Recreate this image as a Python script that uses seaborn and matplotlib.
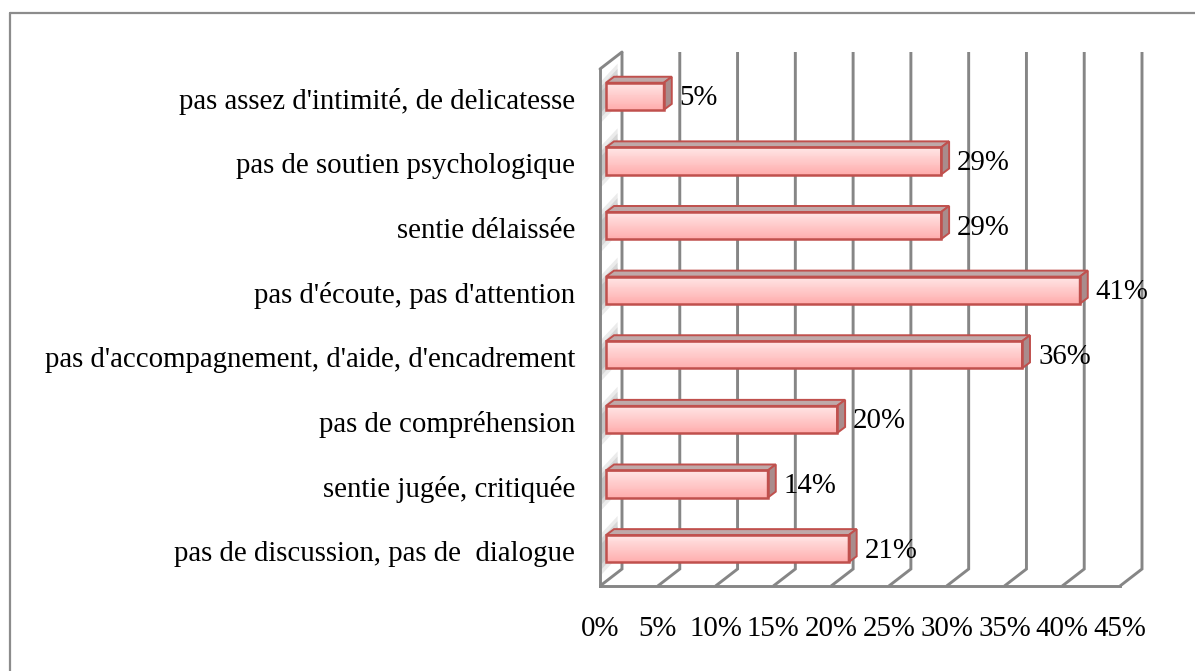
#Importing required libraries
import numpy as np
import pandas as pd
import matplotlib
matplotlib.use("Agg")
import matplotlib.pyplot as plt
from matplotlib.patches import Polygon, Rectangle
from matplotlib.lines import Line2D
from matplotlib.colors import to_rgb
import seaborn as sns

#Chart data
categories = ["pas assez d'intimité, de delicatesse",
              "pas de soutien psychologique",
              "sentie délaissée",
              "pas d'écoute, pas d'attention",
              "pas d'accompagnement, d'aide, d'encadrement",
              "pas de compréhension",
              "sentie jugée, critiquée",
              "pas de discussion, pas de  dialogue"]
values = [5, 29, 29, 41, 36, 20, 14, 21]
value_labels = ["5%", "29%", "29%", "41%", "36%", "20%", "14%", "21%"]
xticks = [0, 5, 10, 15, 20, 25, 30, 35, 40, 45]
xtick_labels = ["0%", "5%", "10%", "15%", "20%", "25%", "30%", "35%", "40%", "45%"]

df = pd.DataFrame({"cat": categories, "val": values})

#Styling
sns.set_style("white")
plt.rcParams['font.family'] = ['Liberation Serif', 'DejaVu Serif']
plt.rcParams['text.color'] = 'black'
plt.rcParams['xtick.color'] = 'black'
plt.rcParams['ytick.color'] = 'black'
W, H, DPI = 1195, 671, 100
grid_col = "#868686"
edge_col = "#C0504D"
top_face = "#BFA9A9"
side_face = "#A98C8C"
grad_top = "#FFE6E6"
grad_bot = "#FFADAD"
fs = 20.8
glw = 2.1

fig = plt.figure(figsize=(W / DPI, H / DPI), dpi=DPI)
ax = fig.add_axes([600 / W, (H - 586) / H, 520 / W, 517 / H])

sns.barplot(data=df, x="val", y="cat", orient="h", ax=ax, width=0.42,
            color=grad_bot, zorder=3)
ax.set_xlim(0, 45)
ax.set_ylim(len(categories) - 0.5, -0.5)

#pixel -> data unit helpers
sx = 45 / 520
sy = len(categories) / 517

#3d depth of the walls (pixels)
DX, DY = 22, 17
ybot, ytop = len(categories) - 0.5, -0.5
for t in xticks:
    ax.plot([t, t + DX * sx, t + DX * sx], [ybot, ybot - DY * sy, ytop - DY * sy],
            color=grid_col, lw=glw, zorder=1, clip_on=False, solid_joinstyle="miter",
            solid_capstyle="butt")
#left wall top edge
ax.plot([0, DX * sx], [ytop, ytop - DY * sy], color=grid_col, lw=glw, zorder=1, clip_on=False)

#soft shadow on the left wall (a few stacked translucent layers)
for i in range(len(categories)):
    for a, spread in [(0.25, 0.32), (0.35, 0.24), (0.45, 0.16)]:
        ax.add_patch(Polygon([(0.15, i + spread), (DX * sx * 0.8, i + spread - DY * sy),
                              (DX * sx * 0.8, i - spread - DY * sy), (0.15, i - spread)],
                             closed=True, facecolor="#B0B0B0", alpha=a, edgecolor="none",
                             zorder=0.5, clip_on=False))

#bars with gradient and 3d faces
ox, oy = 6 * sx, -5 * sy        # front face shift
dx, dy = 8 * sx, -6 * sy        # bar depth
c0, c1 = np.array(to_rgb(grad_top)), np.array(to_rgb(grad_bot))
for p in ax.patches[:]:
    if not isinstance(p, Rectangle) or p.get_width() <= 0:
        continue
    x, y, w, h = p.get_x() + ox, p.get_y() + oy, p.get_width(), p.get_height()
    p.set_x(x)
    p.set_y(y)
    p.set_facecolor("none")
    p.set_edgecolor(edge_col)
    p.set_linewidth(1.8)
    p.set_zorder(5)
    n = 30
    for k in range(n):
        f = k / (n - 1)
        ax.add_patch(Rectangle((x, y + h * k / n), w, h / n + 0.002,
                               facecolor=c0 * (1 - f) + c1 * f, edgecolor="none", zorder=4))
    ax.add_patch(Polygon([(x, y), (x + w, y), (x + w + dx, y + dy), (x + dx, y + dy)], closed=True,
                         facecolor=top_face, edgecolor=edge_col, lw=1.4, zorder=4.5, clip_on=False))
    ax.add_patch(Polygon([(x + w, y), (x + w + dx, y + dy), (x + w + dx, y + h + dy), (x + w, y + h)],
                         closed=True, facecolor=side_face, edgecolor=edge_col, lw=1.4, zorder=4.5,
                         clip_on=False))

#value labels
for i, (v, lab) in enumerate(zip(values, value_labels)):
    ax.annotate(lab, xy=(v, i), xytext=(22, 3), textcoords="offset pixels",
                ha="left", va="center", fontsize=fs, color="black", zorder=6)

#axes
ax.set_xticks(xticks)
ax.set_xticklabels(xtick_labels, fontsize=fs)
ax.set_yticks(range(len(categories)))
ax.set_yticklabels(categories, fontsize=fs, va="center")
ax.set_yticks(np.arange(-0.5, len(categories), 1), minor=True)
ax.tick_params(axis="x", length=5.8, width=glw, color=grid_col, pad=16)
ax.tick_params(axis="y", which="major", length=0, pad=18)
ax.tick_params(axis="y", which="minor", length=5.8, width=glw, color=grid_col)
ax.set_xlabel("")
ax.set_ylabel("")
for s in ["top", "right"]:
    ax.spines[s].set_visible(False)
for s in ["left", "bottom"]:
    ax.spines[s].set_color(grid_col)
    ax.spines[s].set_linewidth(glw)
    ax.spines[s].set_zorder(2)

#outer frame
fig.add_artist(Line2D([10 / W, 10 / W], [0, 1 - 13 / H], color="#8C8C8C", lw=1.6))
fig.add_artist(Line2D([10 / W, 1], [1 - 13 / H, 1 - 13 / H], color="#8C8C8C", lw=1.6))

plt.savefig("out.png", dpi=DPI)
